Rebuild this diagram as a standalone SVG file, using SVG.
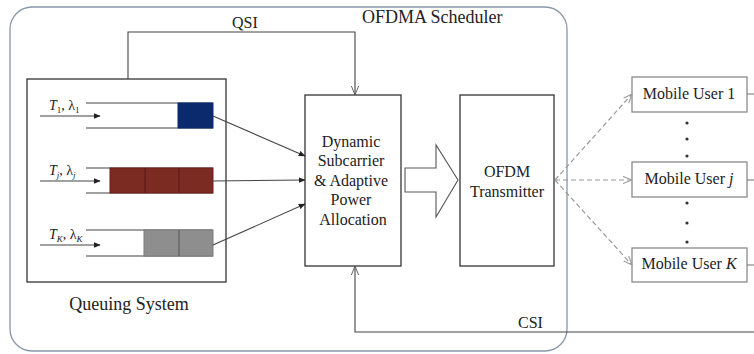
<svg xmlns="http://www.w3.org/2000/svg" width="754" height="354" viewBox="0 0 754 354" font-family="'Liberation Serif', 'DejaVu Serif', serif">
<style>
text{font-family:'Liberation Serif','DejaVu Serif',serif;fill:#222}
.t16{font-size:16px}
.lbl{font-size:14px}
.box{fill:#fff;stroke:#333;stroke-width:1.3}
.ln{fill:none;stroke:#444;stroke-width:1.1}
.dash{fill:none;stroke:#999;stroke-width:1.2;stroke-dasharray:5 3}
.ubox{fill:#fff;stroke:#8a8a8a;stroke-width:1.3}
</style>
<defs>
<marker id="fa" viewBox="0 0 10 10" refX="9" refY="5" markerWidth="7" markerHeight="7" orient="auto" markerUnits="userSpaceOnUse">
<path d="M0,1 L10,5 L0,9 Z" fill="#222"/>
</marker>
<marker id="oa" viewBox="0 0 10 10" refX="10" refY="5" markerWidth="9" markerHeight="9" orient="auto" markerUnits="userSpaceOnUse">
<path d="M0,1 L10,5 L0,9" fill="none" stroke="#555" stroke-width="1"/>
</marker>
<marker id="ga" viewBox="0 0 10 10" refX="10" refY="5" markerWidth="9" markerHeight="9" orient="auto" markerUnits="userSpaceOnUse">
<path d="M0,1 L10,5 L0,9" fill="none" stroke="#999" stroke-width="1.2"/>
</marker>
</defs>
<rect width="754" height="354" fill="#fff"/>

<g id="scheduler">
<rect x="10" y="7" width="557" height="344" rx="22" fill="none" stroke="#8797a8" stroke-width="1.3"/>
<text x="362" y="23" style="font-size:18px">OFDMA Scheduler</text>
</g>

<g id="queuing-system">
<rect class="box" x="27" y="79" width="199" height="203"/>
<g id="queue-1">
<line class="ln" x1="86" y1="103" x2="213" y2="103"/>
<line class="ln" x1="86" y1="128" x2="213" y2="128"/>
<rect x="178" y="103" width="35" height="25" fill="#0b2a6e" stroke="#0b2a6e"/>
<line class="ln" x1="40" y1="116" x2="100" y2="116" marker-end="url(#fa)"/>
<text class="lbl" x="49" y="110"><tspan font-style="italic">T</tspan><tspan font-size="9" dy="3">1</tspan><tspan dy="-3">, λ</tspan><tspan font-size="9" dy="3">1</tspan></text>
</g>
<g id="queue-j">
<line class="ln" x1="86" y1="168" x2="213" y2="168"/>
<line class="ln" x1="86" y1="193" x2="213" y2="193"/>
<rect x="110" y="168" width="103" height="25" fill="#7b2b22" stroke="#6a2018"/>
<line x1="145" y1="168" x2="145" y2="193" stroke="#5a1810" stroke-width="1"/>
<line x1="179" y1="168" x2="179" y2="193" stroke="#5a1810" stroke-width="1"/>
<line class="ln" x1="40" y1="181" x2="100" y2="181" marker-end="url(#fa)"/>
<text class="lbl" x="49" y="175"><tspan font-style="italic">T</tspan><tspan font-size="9" dy="3" font-style="italic">j</tspan><tspan dy="-3">, λ</tspan><tspan font-size="9" dy="3" font-style="italic">j</tspan></text>
</g>
<g id="queue-K">
<line class="ln" x1="86" y1="230" x2="213" y2="230"/>
<line class="ln" x1="86" y1="256" x2="213" y2="256"/>
<rect x="144" y="230" width="69" height="26" fill="#8e8e8e" stroke="#7a7a7a"/>
<line x1="179" y1="230" x2="179" y2="256" stroke="#555" stroke-width="1"/>
<line class="ln" x1="40" y1="245" x2="100" y2="245" marker-end="url(#fa)"/>
<text class="lbl" x="49" y="239"><tspan font-style="italic">T</tspan><tspan font-size="9" dy="3" font-style="italic">K</tspan><tspan dy="-3">, λ</tspan><tspan font-size="9" dy="3" font-style="italic">K</tspan></text>
</g>
<text x="129" y="310" text-anchor="middle" style="font-size:18px">Queuing System</text>
</g>

<g id="allocation">
<rect class="box" x="305" y="95" width="96" height="171"/>
<text class="t16" text-anchor="middle" x="353">
<tspan x="353" y="147">Dynamic</tspan>
<tspan x="353" y="166">Subcarrier</tspan>
<tspan x="353" y="186">&amp; Adaptive</tspan>
<tspan x="353" y="205">Power</tspan>
<tspan x="353" y="225">Allocation</tspan>
</text>
</g>

<g id="transmitter">
<rect class="box" x="460" y="95" width="94" height="171"/>
<text class="t16" text-anchor="middle" x="507" y="177">OFDM</text>
<text class="t16" text-anchor="middle" x="507" y="197">Transmitter</text>
</g>

<g id="user-1">
<rect class="ubox" x="632" y="77" width="115" height="35"/>
<text class="t16" text-anchor="middle" x="689" y="99">Mobile User 1</text>
</g>
<g id="user-j">
<rect class="ubox" x="632" y="162" width="115" height="35"/>
<text class="t16" text-anchor="middle" x="689" y="184">Mobile User <tspan font-style="italic">j</tspan></text>
</g>
<g id="user-K">
<rect class="ubox" x="632" y="248" width="115" height="34"/>
<text class="t16" text-anchor="middle" x="689" y="269">Mobile User <tspan font-style="italic">K</tspan></text>
</g>
<g id="dots" fill="#333">
<circle cx="687" cy="123" r="1.6"/><circle cx="687" cy="139" r="1.6"/><circle cx="687" cy="156" r="1.6"/>
<circle cx="687" cy="203" r="1.6"/><circle cx="687" cy="223" r="1.6"/><circle cx="687" cy="242" r="1.6"/>
</g>

<g id="connectors">
<polyline class="ln" points="128,79 128,32 355,32 355,95" marker-end="url(#oa)"/>
<text class="t16" x="232" y="28">QSI</text>
<polyline class="ln" points="754,332 355,332 355,266" marker-end="url(#oa)"/>
<text class="t16" x="518" y="328">CSI</text>
<line class="ln" x1="213" y1="116" x2="305" y2="156" marker-end="url(#fa)"/>
<line class="ln" x1="213" y1="181" x2="305" y2="180" marker-end="url(#fa)"/>
<line class="ln" x1="213" y1="245" x2="305" y2="204" marker-end="url(#fa)"/>
<path d="M405,168 L436,168 L436,145 L458,180 L436,217 L436,192 L405,192 Z" fill="#fff" stroke="#555" stroke-width="1.1"/>
<line class="dash" x1="555" y1="180" x2="632" y2="94" marker-end="url(#ga)"/>
<line class="dash" x1="555" y1="180" x2="632" y2="180" marker-end="url(#ga)"/>
<line class="dash" x1="555" y1="180" x2="632" y2="265" marker-end="url(#ga)"/>
<line x1="747" y1="94" x2="754" y2="94" stroke="#888" stroke-width="1.2"/>
<line x1="747" y1="180" x2="754" y2="180" stroke="#888" stroke-width="1.2"/>
<line x1="747" y1="265" x2="754" y2="265" stroke="#888" stroke-width="1.2"/>
</g>
</svg>
